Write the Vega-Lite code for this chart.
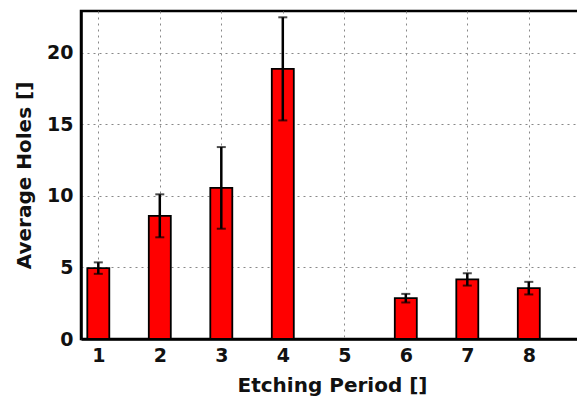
{
  "$schema": "https://vega.github.io/schema/vega-lite/v6.json",
  "autosize": "none",
  "width": 502,
  "height": 328,
  "padding": {"left": 81, "top": 11, "right": 0, "bottom": 60},
  "background": "white",
  "config": {
    "view": {"stroke": "black", "strokeWidth": 2.5},
    "font": "DejaVu Sans",
    "axis": {
      "labelFont": "DejaVu Sans",
      "labelFontWeight": "bold",
      "labelFontSize": 19,
      "labelColor": "#111",
      "titleFont": "DejaVu Sans",
      "titleFontWeight": "bold",
      "titleFontSize": 20,
      "titleColor": "#111",
      "domainColor": "black",
      "domainWidth": 2.5,
      "ticks": false,
      "grid": true,
      "gridColor": "#888",
      "gridDash": [2, 4],
      "gridWidth": 1,
      "gridOpacity": 1,
      "zindex": 1
    }
  },
  "data": {
    "values": [
      {"period": 1, "mean": 4.95, "err": 0.4},
      {"period": 2, "mean": 8.6, "err": 1.5},
      {"period": 3, "mean": 10.55, "err": 2.85},
      {"period": 4, "mean": 18.86, "err": 3.6},
      {"period": 6, "mean": 2.85, "err": 0.3},
      {"period": 7, "mean": 4.16, "err": 0.43},
      {"period": 8, "mean": 3.55, "err": 0.44}
    ]
  },
  "encoding": {
    "x": {
      "field": "period", "type": "quantitative",
      "scale": {"domain": [0.8, 8.8], "nice": false, "zero": false},
      "axis": {"values": [1, 2, 3, 4, 5, 6, 7, 8], "title": "Etching Period []", "labelPadding": 7, "titlePadding": 10, "format": "d"}
    }
  },
  "layer": [
    {
      "mark": {"type": "bar", "width": 22, "fill": "#ff0000", "stroke": "black", "strokeWidth": 1.8},
      "encoding": {
        "y": {
          "field": "mean", "type": "quantitative",
          "scale": {"domain": [0, 22.9], "nice": false},
          "axis": {"values": [0, 5, 10, 15, 20], "title": "Average Holes []", "labelPadding": 8, "titlePadding": 12}
        }
      }
    },
    {
      "mark": {"type": "errorbar", "ticks": {"size": 9, "thickness": 2, "color": "black"}, "rule": {"strokeWidth": 2.5, "color": "black"}},
      "encoding": {
        "y": {"field": "mean", "type": "quantitative", "title": "Average Holes []"},
        "yError": {"field": "err"}
      }
    }
  ]
}
